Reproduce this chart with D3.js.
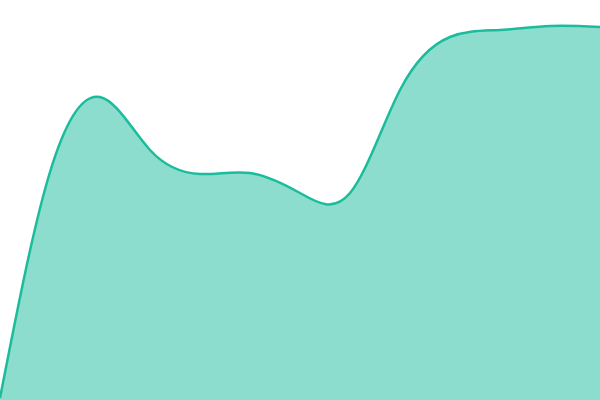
<!DOCTYPE html>
<html lang="en">
    <head>
        <meta charset="utf-8" />
        <title>Area chart</title>
        <style>
            html, body { margin: 0; padding: 0; background: #fff; }
            svg { display: block; }
            .area { fill: #1abc9c; fill-opacity: 0.5; }
            .line { fill: none; stroke: #1abc9c; stroke-width: 2.5; }
        </style>
        <script src="https://cdn.jsdelivr.net/npm/d3@7/dist/d3.min.js"></script>
    </head>
    <body>
        <script>
            // x positions (0-12 along the axis)
            var steps = [0, 1, 2, 3, 4, 5, 6, 7, 8, 9, 10, 11, 12];
            // series values (0-100)
            var values = [0.5, 57, 75.75, 62.5, 56.5, 56.75, 51.75, 51.75, 77.5, 90.75, 92.5, 93.5, 93.25];

            var width = 600,
                height = 400;

            var x = d3.scaleLinear()
                .domain([0, 12])
                .range([0, width]);

            var y = d3.scaleLinear()
                .domain([0, 100])
                .range([height, 0]);

            var svg = d3.select('body')
                .append('svg')
                .attr('width', width)
                .attr('height', height);

            var data = steps.map(function(s, i) { return { s: s, v: values[i] }; });

            var area = d3.area()
                .curve(d3.curveNatural)
                .x(function(d) { return x(d.s); })
                .y0(y(0))
                .y1(function(d) { return y(d.v); });

            var line = d3.line()
                .curve(d3.curveNatural)
                .x(function(d) { return x(d.s); })
                .y(function(d) { return y(d.v); });

            svg.append('path').datum(data).attr('class', 'area').attr('d', area);
            svg.append('path').datum(data).attr('class', 'line').attr('d', line);
        </script>
    </body>
</html>
